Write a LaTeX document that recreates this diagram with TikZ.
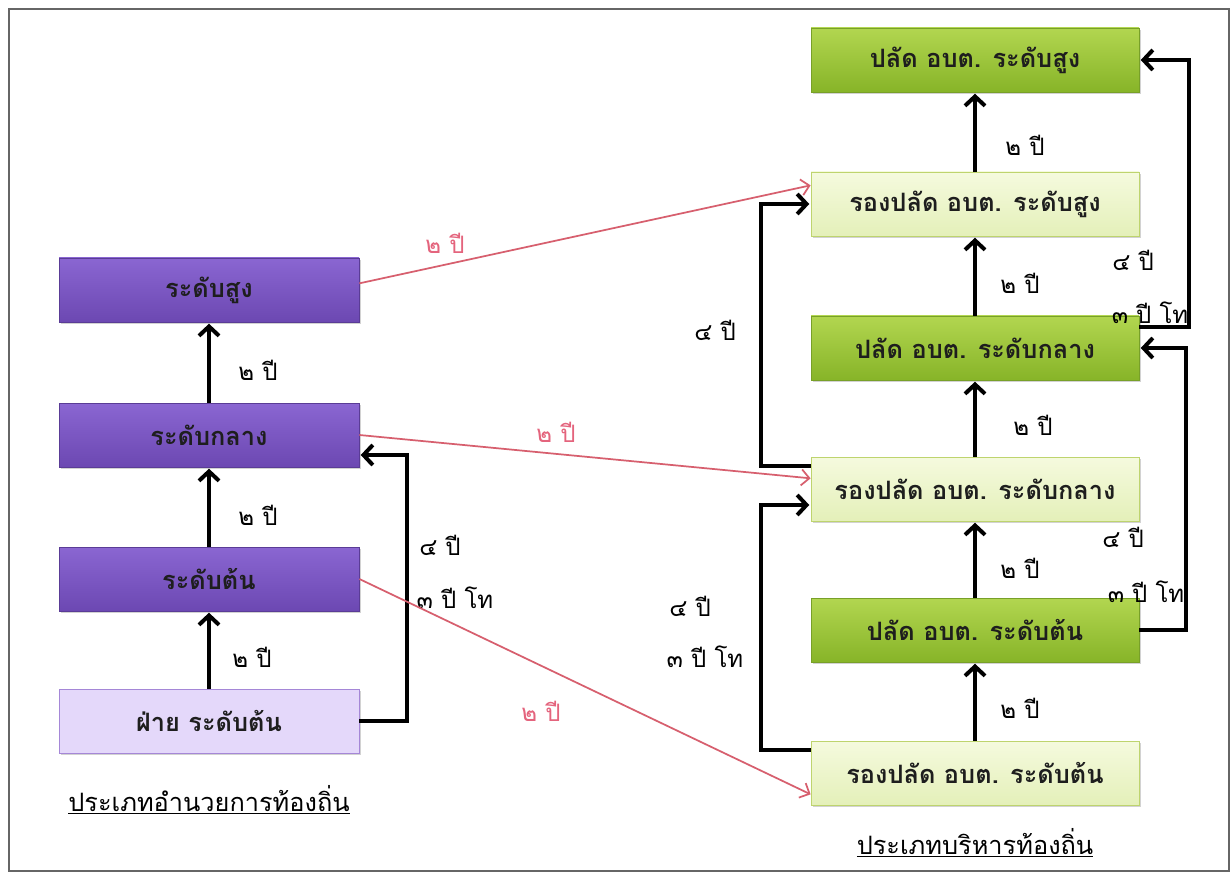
\documentclass[tikz,border=0pt]{standalone}
\usepackage{fontspec}
\newfontfamily\thai[Script=Thai]{Loma}
\usetikzlibrary{arrows.meta,shadows}

\definecolor{purpletop}{RGB}{138,102,210}
\definecolor{purplebot}{RGB}{108,72,178}
\definecolor{purpleline}{RGB}{90,60,150}
\definecolor{lavfill}{RGB}{228,216,250}
\definecolor{lavline}{RGB}{165,135,215}
\definecolor{greentop}{RGB}{178,214,80}
\definecolor{greenbot}{RGB}{135,180,40}
\definecolor{greenline}{RGB}{120,160,40}
\definecolor{paletop}{RGB}{245,250,222}
\definecolor{palebot}{RGB}{228,240,185}
\definecolor{paleline}{RGB}{190,212,110}
\definecolor{redline}{RGB}{215,95,110}
\definecolor{pinktext}{RGB}{228,100,125}
\definecolor{boxtext}{RGB}{30,30,30}

\tikzset{
  box/.style={rectangle, minimum height=48pt, inner sep=0pt,
    font=\thai\bfseries\fontsize{19}{22}\selectfont, text=boxtext,
    line width=0.6pt, drop shadow={opacity=0.35, shadow xshift=1.2pt, shadow yshift=-1.8pt}},
  leftbox/.style={box, minimum width=225pt},
  rightbox/.style={box, minimum width=246pt},
  purplebox/.style={leftbox, top color=purpletop, bottom color=purplebot, draw=purpleline},
  lavbox/.style={leftbox, fill=lavfill, draw=lavline},
  greenbox/.style={rightbox, top color=greentop, bottom color=greenbot, draw=greenline},
  palebox/.style={rightbox, top color=paletop, bottom color=palebot, draw=paleline},
  blk/.style={line width=3pt, black, line cap=butt, line join=miter,
    -{Straight Barb[length=7pt, width=15pt, line width=3pt]}, shorten >=1pt},
  redarr/.style={line width=1.3pt, redline,
    -{Straight Barb[length=6pt, width=12pt, line width=1.3pt]}},
  yr/.style={font=\thai\fontsize{18}{21}\selectfont, text=black, inner sep=1pt},
  pinkyr/.style={yr, text=pinktext},
  heading/.style={font=\thai\fontsize{19}{22}\selectfont, text=black, inner sep=1pt},
}

\begin{document}
\begin{tikzpicture}[x=0.75pt, y=-0.75pt]
  \useasboundingbox (0,0) rectangle (1230,873);
  \fill[white] (0,0) rectangle (1230,873);
  \draw[black!60, line width=1.3pt] (9,9) rectangle (1229,871);

  % left column: local administration track
  \node[purplebox] (ls) at (209,290) {ระดับสูง};
  \node[purplebox] (lk) at (209,435) {ระดับกลาง};
  \node[purplebox] (lt) at (209,579) {ระดับต้น};
  \node[lavbox]    (lf) at (209,721) {ฝ่าย ระดับต้น};
  \node[heading] (lhead) at (209,800) {\underline{ประเภทอำนวยการท้องถิ่น}};

  % right column: local executive track
  \node[greenbox] (ps) at (975,60)  {ปลัด อบต. ระดับสูง};
  \node[palebox]  (rs) at (975,204) {รองปลัด อบต. ระดับสูง};
  \node[greenbox] (pk) at (975,348) {ปลัด อบต. ระดับกลาง};
  \node[palebox]  (rk) at (975,489) {รองปลัด อบต. ระดับกลาง};
  \node[greenbox] (pt) at (975,630) {ปลัด อบต. ระดับต้น};
  \node[palebox]  (rt) at (975,773) {รองปลัด อบต. ระดับต้น};
  \node[heading] (rhead) at (975,843) {\underline{ประเภทบริหารท้องถิ่น}};

  % left column steps
  \draw[blk] (lf.north) -- (lt.south);
  \draw[blk] (lt.north) -- (lk.south);
  \draw[blk] (lk.north) -- (ls.south);
  \draw[blk] (lf.east) -- ++(48,0) |- ([yshift=-15pt]lk.east);
  \node[yr] (l1) at (258,370) {๒ ปี};
  \node[yr] (l2) at (258,515) {๒ ปี};
  \node[yr] (l3) at (252,657) {๒ ปี};
  \node[yr] (l4) at (440,545) {๔ ปี};
  \node[yr] (l5) at (455,598) {๓ ปี โท};

  % right column steps
  \draw[blk] (rt.north) -- (pt.south);
  \draw[blk] (pt.north) -- (rk.south);
  \draw[blk] (rk.north) -- (pk.south);
  \draw[blk] (pk.north) -- (rs.south);
  \draw[blk] (rs.north) -- (ps.south);
  \draw[blk] ([yshift=17pt]rt.west) -- ++(-50,0) |- ([yshift=-12pt]rk.west);
  \draw[blk] ([yshift=17pt]rk.west) -- ++(-50,0) |- (rs.west);
  \draw[blk] (pt.east) -- ++(47,0) |- (pk.east);
  \draw[blk] ([yshift=16pt]pk.east) -- ++(50,0) |- (ps.east);
  \node[yr] (r1) at (1025,145) {๒ ปี};
  \node[yr] (r2) at (1020,283) {๒ ปี};
  \node[yr] (r3) at (1033,425) {๒ ปี};
  \node[yr] (r4) at (1020,568) {๒ ปี};
  \node[yr] (r5) at (1020,708) {๒ ปี};
  \node[yr] (r6) at (690,606) {๔ ปี};
  \node[yr] (r7) at (705,657) {๓ ปี โท};
  \node[yr] (r8) at (715,330) {๔ ปี};
  \node[yr] (r9) at (1123,537) {๔ ปี};
  \node[yr] (r10) at (1146,592) {๓ ปี โท};
  \node[yr] (r11) at (1133,260) {๔ ปี};
  \node[yr] (r12) at (1150,313) {๓ ปี โท};

  % cross-track transfers
  \draw[redarr] ([yshift=5pt]ls.east) -- ([yshift=14pt]rs.west);
  \draw[redarr] (lk.east) -- ([yshift=8pt]rk.west);
  \draw[redarr] (lt.east) -- ([yshift=-16pt]rt.west);
  \node[pinkyr] (x1) at (445,243) {๒ ปี};
  \node[pinkyr] (x2) at (556,432) {๒ ปี};
  \node[pinkyr] (x3) at (541,711) {๒ ปี};
\end{tikzpicture}
\end{document}
